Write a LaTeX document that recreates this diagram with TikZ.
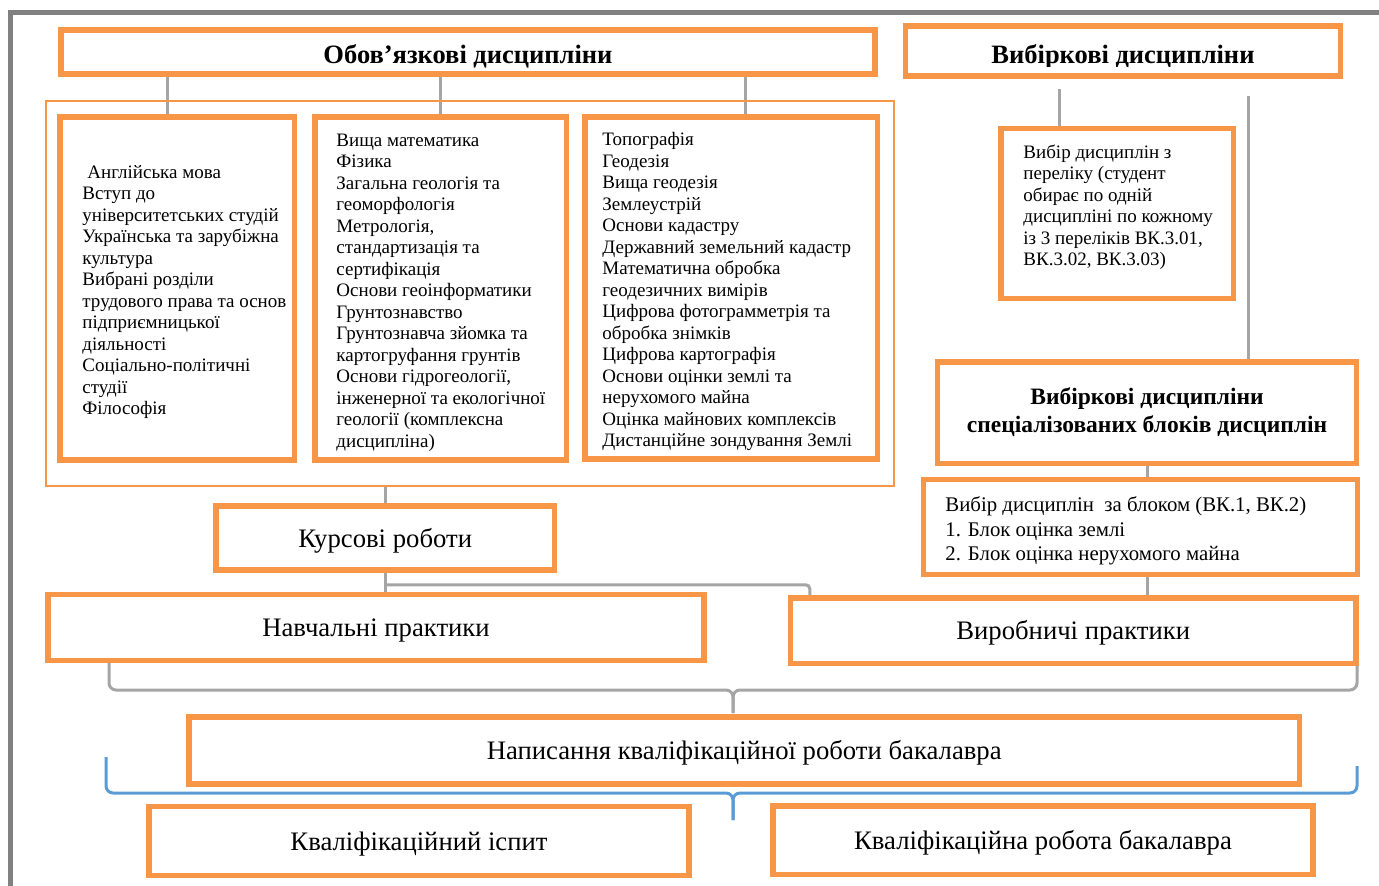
\documentclass[tikz,border=0pt]{standalone}
\usepackage{fontspec}
\setmainfont{Liberation Serif}
\usetikzlibrary{positioning,backgrounds}
\definecolor{orng}{HTML}{F79646}
\definecolor{lnkgray}{HTML}{A5A5A5}
\definecolor{framegray}{HTML}{808080}
\definecolor{brblue}{HTML}{5B9BD5}

\begin{document}
\begin{tikzpicture}[x=1pt, y=-1pt,
  box/.style={draw=orng, line width=5.5pt, inner sep=0pt},
  lst/.style={anchor=west, inner sep=0pt, align=left, font=\fontsize{19}{21.5}\selectfont},
  big/.style={box, text height=18pt, text depth=0pt, font=\fontsize{26.7}{30}\selectfont},
  hdr/.style={font=\bfseries\fontsize{26.5}{28}\selectfont},
  lnk/.style={lnkgray, line width=3pt},
  brc/.style={line width=3pt, rounded corners=7pt}]
\useasboundingbox (0,0) rectangle (1379,886);
\draw[framegray, line width=5pt] (10.5,886) |- (1379,12);

% обов'язкові
\node[box, hdr, text height=23pt, text depth=0pt, minimum width=814, minimum height=44] (obov) at (468,52) {Обов’язкові дисципліни};
\node[draw=orng, line width=2pt, minimum width=848, minimum height=385] (obl) at (470,293.5) {};
\node[box, minimum width=234.5, minimum height=343] (c1) at (177.25,288.5) {};
\node[box, minimum width=251.5, minimum height=343] (c2) at (440.75,288.5) {};
\node[box, minimum width=292.5, minimum height=342] (c3) at (731.25,288) {};
\node[lst] (c1t) at ([xshift=25,yshift=-3.5]c1.west) {\hspace*{5pt}Англійська мова\\Вступ до\\університетських студій\\Українська та зарубіжна\\культура\\Вибрані розділи\\трудового права та основ\\підприємницької\\діяльності\\Соціально-політичні\\студії\\Філософія};
\node[lst] (c2t) at ([xshift=24,yshift=-4]c2.west) {Вища математика\\Фізика\\Загальна геологія та\\геоморфологія\\Метрологія,\\стандартизація та\\сертифікація\\Основи геоінформатики\\Грунтознавство\\Грунтознавча зйомка та\\картогруфання грунтів\\Основи гідрогеології,\\інженерної та екологічної\\геології (комплексна\\дисципліна)};
\node[lst] (c3t) at ([xshift=20,yshift=-3.5]c3.west) {Топографія\\Геодезія\\Вища геодезія\\Землеустрій\\Основи кадастру\\Державний земельний кадастр\\Математична обробка\\геодезичних вимірів\\Цифрова фотограмметрія та\\обробка знімків\\Цифрова картографія\\Основи оцінки землі та\\нерухомого майна\\Оцінка майнових комплексів\\Дистанційне зондування Землі};

% вибіркові
\node[box, minimum width=435, minimum height=50] (vyb) at (1123,51) {};
\begin{scope}
  \clip (vyb.north west) rectangle ([yshift=12]vyb.south east);
  \node[hdr, anchor=base] (vybt) at (1123,63) {Вибіркові дисципліни};
\end{scope}
\coordinate (v1) at (1059,89);
\coordinate (v2) at (1248,96);
\node[box, minimum width=232.5, minimum height=170] (per) at (1117.25,213.5) {};
\node[lst] (pert) at ([xshift=25,yshift=6.5]per.west) {Вибір дисциплін з\\переліку (студент\\обирає по одній\\дисципліні по кожному\\із 3 переліків ВК.3.01,\\ВК.3.02, ВК.3.03)};
\node[box, align=center, font=\bfseries\fontsize{23.5}{28}\selectfont, minimum width=419, minimum height=101.5] (spec) at (1147,412.5) {Вибіркові дисципліни\\спеціалізованих блоків дисциплін};
\node[box, minimum width=434, minimum height=95] (blk) at (1140.5,527) {};
\begin{scope}
  \clip (blk.north west) rectangle ([yshift=12.5]blk.south east);
  \node[lst, font=\fontsize{20.8}{24.5}\selectfont] (blkt) at ([xshift=24.5,yshift=-4]blk.west) {Вибір дисциплін\ \ за блоком (ВК.1, ВК.2)\\1. Блок оцінка землі\\2. Блок оцінка нерухомого майна};
\end{scope}

% роботи і практики
\node[big, minimum width=338.5, minimum height=64] (kurs) at (385.25,538) {Курсові роботи};
\node[big, minimum width=656, minimum height=66] (nav) at (376,627.5) {Навчальні практики};
\node[big, minimum width=565.5, minimum height=65.5] (vyr) at (1073.25,630.75) {Виробничі практики};
\node[big, minimum width=1110.5, minimum height=67] (nap) at (744.25,750.5) {Написання кваліфікаційної роботи бакалавра};
\node[big, minimum width=540, minimum height=69] (ekz) at (419,841) {Кваліфікаційний іспит};
\node[big, minimum width=540, minimum height=68.5] (kvr) at (1043,840.25) {Кваліфікаційна робота бакалавра};

\coordinate (gl) at (109,663);
\coordinate (gr) at (1357,663);
\coordinate (gt) at (733,713);
\coordinate (bl) at (106,757);
\coordinate (br) at (1357,766);
\coordinate (bt) at (733,820);

\begin{scope}[on background layer]
\foreach \s/\n in {-10/c1, 0/c2, 14/c3}
  \draw[lnk] ([xshift=\s]\n.north) -- ([xshift=\s]\n.north |- obov.south);
\draw[lnk] (v1) -- (v1 |- per.north);
\draw[lnk] (v2) -- (v2 |- spec.north);
\draw[lnk] (kurs.north |- obl.south) -- (kurs.north);
\draw[lnk] (kurs.south) -- (kurs.south |- nav.north);
\draw[lnk, rounded corners=4pt] ([yshift=-12]kurs.south) -| ([xshift=22]vyr.north west);
\draw[lnk] (spec.south) -- (spec.south |- blk.north);
\draw[lnk] (spec.south |- blk.south) -- (spec.south |- vyr.north);
% дужки
\draw[lnk, brc] (gl) -- (109,690) -- (733,690) -- (gt);
\draw[lnk, brc] (gr) -- (1357,690) -- (733,690) -- (gt);
\draw[brblue, brc] (bl) -- (106,793) -- (733,793) -- (bt);
\draw[brblue, brc] (br) -- (1357,793) -- (733,793) -- (bt);
\end{scope}
\end{tikzpicture}
\end{document}
